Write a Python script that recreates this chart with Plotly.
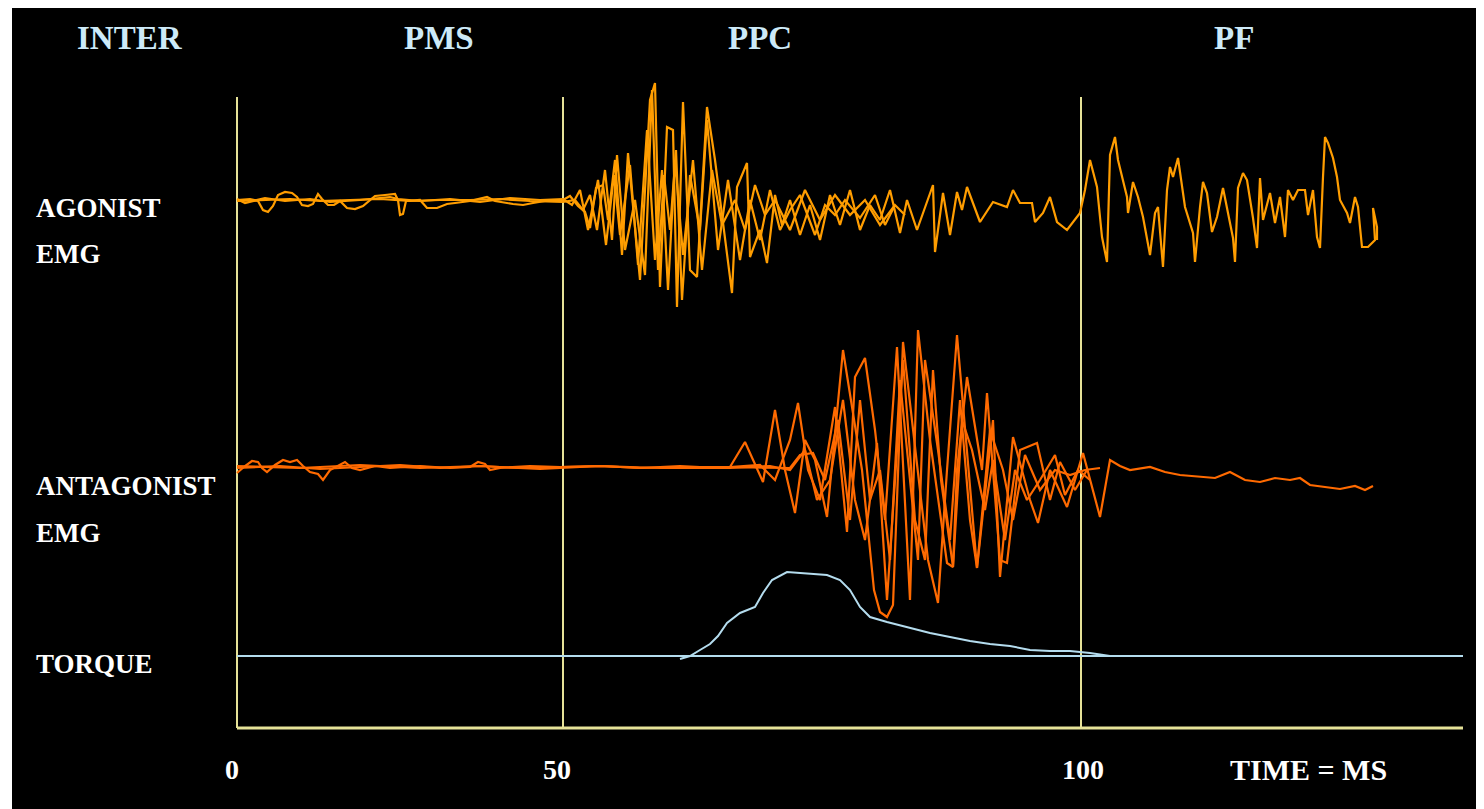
import plotly.graph_objects as go

# ---------------- axis / phase data (x in display units, y in display units, y grows downward) -------------
phase_names = ["INTER", "PMS", "PPC", "PF"]
phase_label_x = [130, 439, 760, 1234]
tick_positions = [237, 563, 1081]
tick_labels = ["0", "50", "100"]
axis_unit_label = "TIME = MS"

row_labels = [["AGONIST", "EMG"], ["ANTAGONIST", "EMG"], ["TORQUE"]]

ag_base_y = 200
ant_base_y = 467
torque_base_y = 656

# ---------------- agonist EMG (several superimposed trials) ----------------
ag1_x = [237, 250, 258, 263, 268, 273, 278, 285, 292, 297, 302, 308, 313, 318, 322, 328, 334, 340, 347, 355,
         363, 370, 375, 385, 395, 398, 400, 403, 406, 420, 427, 437, 447, 455, 470, 487, 495, 513, 523, 533,
         545, 563, 570, 578, 585, 590, 596, 603, 608, 615, 622, 628, 640, 650, 655, 660, 667, 673, 677, 683,
         690, 697, 707, 715, 725, 732, 737, 747, 750, 760, 767, 775, 782, 790, 800, 810, 820, 830, 840, 850,
         860, 870, 880, 890, 900, 907, 917, 933, 935, 943, 950, 957, 962, 967, 980, 993, 1007, 1013, 1020,
         1032, 1035, 1043, 1050, 1057, 1067, 1080, 1085, 1090, 1097, 1102, 1107, 1110, 1115, 1118, 1127, 1128,
         1133, 1138, 1143, 1150, 1155, 1158, 1163, 1167, 1170, 1173, 1178, 1182, 1185, 1193, 1195, 1200, 1203,
         1207, 1212, 1217, 1223, 1228, 1233, 1235, 1238, 1243, 1247, 1253, 1257, 1260, 1263, 1270, 1275, 1280,
         1285, 1288, 1293, 1298, 1305, 1308, 1313, 1317, 1320, 1323, 1325, 1328, 1333, 1337, 1340, 1347, 1350,
         1355, 1358, 1362, 1368, 1375, 1373, 1377, 1377]
ag1_y = [200, 199, 201, 210, 212, 206, 195, 192, 193, 197, 205, 206, 204, 194, 199, 205, 205, 201, 208, 209,
         206, 200, 196, 195, 194, 200, 215, 214, 201, 200, 208, 208, 204, 203, 201, 197, 201, 204, 205, 203,
         201, 200, 196, 206, 212, 228, 188, 185, 220, 160, 255, 153, 280, 100, 83, 287, 127, 130, 307, 102,
         270, 277, 107, 160, 240, 293, 187, 163, 257, 230, 263, 195, 225, 200, 235, 205, 240, 195, 225, 190,
         230, 205, 220, 190, 233, 200, 230, 185, 252, 193, 235, 192, 210, 187, 222, 202, 207, 190, 203,
         203, 222, 213, 197, 222, 230, 213, 190, 160, 187, 237, 262, 155, 137, 160, 197, 213,
         182, 197, 217, 255, 213, 207, 267, 190, 167, 177, 158, 187, 207, 233, 262, 207, 182,
         193, 232, 217, 188, 213, 238, 262, 188, 173, 180, 218, 248, 178, 220, 193, 223, 197,
         237, 190, 200, 190, 190, 215, 190, 237, 248, 177, 137, 143, 158, 177, 200, 213, 223,
         197, 207, 247, 247, 240, 208, 227, 240]

ag2_x = [237, 260, 290, 320, 350, 380, 410, 440, 470, 500, 530, 563, 575, 583, 590, 597, 605, 612, 617, 625,
         635, 645, 652, 658, 664, 670, 676, 682, 690, 700, 707, 718, 728, 740, 750, 760, 770, 780, 790, 800,
         815, 825, 835, 845, 860, 875, 885, 895, 905]
ag2_y = [201, 200, 199, 201, 200, 199, 201, 200, 200, 199, 201, 202, 200, 210, 195, 230, 170, 240, 155, 250,
         200, 275, 90, 270, 175, 230, 150, 300, 175, 230, 120, 250, 180, 260, 200, 240, 190, 230, 210, 195,
         235, 205, 215, 200, 218, 195, 225, 205, 215]

ag3_x = [237, 245, 265, 285, 310, 330, 360, 390, 398, 420, 450, 480, 510, 540, 563, 572, 580, 588, 598, 606,
         614, 620, 630, 638, 647, 655, 662, 668, 675, 683, 693, 702, 712, 722, 735, 745, 755, 765, 775, 790,
         805, 820, 835, 850, 865, 880, 895]
ag3_y = [199, 203, 198, 201, 199, 202, 200, 197, 199, 201, 199, 202, 198, 200, 199, 205, 190, 230, 180, 245,
         175, 235, 165, 265, 130, 260, 170, 290, 160, 255, 160, 270, 170, 225, 200, 230, 185, 215, 200, 230,
         190, 220, 195, 215, 200, 225, 205]

# ---------------- antagonist EMG (several superimposed trials) ----------------
ant1_x = [237, 245, 252, 258, 262, 267, 275, 283, 290, 297, 303, 310, 318, 323, 330, 338, 345, 352, 360, 375,
          390, 420, 450, 470, 478, 485, 490, 500, 530, 560, 600, 640, 680, 700, 715, 730, 745, 763, 775, 785,
          795, 805, 815, 827, 843, 862, 874, 880, 887, 893, 903, 918, 928, 938, 947, 957, 967, 977, 993, 1000,
          1013, 1030, 1038, 1050, 1067, 1083, 1100, 1110, 1120, 1130, 1150, 1165, 1180, 1200, 1215, 1230, 1245,
          1260, 1275, 1290, 1300, 1310, 1325, 1340, 1355, 1365, 1373]
ant1_y = [473, 466, 461, 462, 468, 472, 465, 460, 462, 460, 466, 472, 474, 480, 470, 466, 462, 468, 470, 466,
          468, 466, 468, 467, 462, 464, 470, 468, 466, 467, 466, 468, 466, 467, 467, 467, 442, 482, 410, 470,
          513, 440, 460, 517, 350, 470, 590, 612, 617, 605, 342, 470, 560, 603, 470, 335, 450, 568, 420, 577,
          437, 500, 523, 470, 507, 453, 517, 460, 466, 470, 467, 472, 475, 477, 478, 472, 480,
          482, 478, 480, 478, 485, 487, 489, 486, 490, 486]

ant2_x = [237, 280, 320, 360, 400, 440, 480, 520, 560, 600, 640, 680, 730, 760, 775, 790, 798, 808, 820, 835,
          847, 855, 865, 875, 885, 897, 910, 918, 930, 947, 953, 957, 967, 982, 987, 1000, 1007, 1020, 1037, 1050,
          1060, 1075, 1087]
ant2_y = [468, 466, 469, 467, 465, 468, 466, 468, 467, 466, 468, 467, 467, 465, 480, 440, 403, 470, 500, 407,
          532, 377, 358, 430, 520, 347, 600, 330, 440, 563, 567, 470, 377, 470, 393, 560, 563, 450, 443, 500,
          462, 490, 470]

ant3_x = [237, 300, 360, 420, 480, 540, 600, 660, 730, 770, 790, 805, 817, 830, 843, 855, 865, 877, 887, 903,
          915, 925, 933, 941, 953, 962, 972, 985, 993, 1005, 1015, 1027, 1040, 1055, 1065, 1078, 1090]
ant3_y = [466, 468, 465, 468, 466, 469, 466, 468, 468, 466, 470, 450, 500, 480, 400, 500, 540, 443, 600, 360,
          520, 560, 370, 480, 567, 420, 450, 510, 460, 540, 470, 500, 480, 455, 495, 470, 480]

ant4_x = [730, 790, 800, 813, 825, 838, 850, 860, 870, 880, 890, 900, 910, 918, 925, 938, 950, 960, 970, 977,
          990, 1003, 1013, 1025, 1040, 1055, 1070, 1085, 1100]
ant4_y = [467, 468, 455, 453, 480, 420, 520, 400, 500, 470, 560, 380, 480, 560, 360, 450, 540, 400, 520, 568,
          430, 470, 520, 455, 490, 470, 475, 470, 468]

# ---------------- torque ----------------
torque_base_x = [237, 1463]
torque_x = [680, 690, 700, 710, 718, 727, 740, 755, 763, 772, 787, 800, 815, 827, 840, 850, 860, 870, 887, 910,
            930, 950, 970, 990, 1010, 1030, 1050, 1070, 1090, 1110]
torque_y = [659, 656, 650, 644, 636, 623, 613, 607, 593, 580, 572, 573, 574, 575, 580, 590, 607, 617, 622, 628,
            633, 637, 641, 644, 646, 650, 651, 651, 653, 656]

# ---------------- styling ----------------
BG = "#000000"
AG_COLOR = "#FF9D00"
ANT_COLOR = "#FF6A00"
TORQUE_COLOR = "#B4DCEE"
GRID_COLOR = "#E6E298"
PHASE_COLOR = "#CDEAF8"
FONT = "Liberation Serif"

FIG_W = 1484
FIG_H = 809
PAGE_OFFSET = 8  # default body margin of the written page
X_RANGE = [230, 1470]
Y_RANGE = [740, 60]


def px_to_paper_x(v):
    return (v - X_RANGE[0]) / (X_RANGE[1] - X_RANGE[0])


def px_to_paper_y(v):
    return (Y_RANGE[0] - v) / (Y_RANGE[0] - Y_RANGE[1])


fig = go.Figure()

for xs, ys in [(ag2_x, ag2_y), (ag3_x, ag3_y), (ag1_x, ag1_y)]:
    fig.add_trace(go.Scatter(x=xs, y=ys, mode="lines", line=dict(color=AG_COLOR, width=2.2),
                             hoverinfo="skip", showlegend=False))
for xs, ys in [(ant2_x, ant2_y), (ant3_x, ant3_y), (ant4_x, ant4_y), (ant1_x, ant1_y)]:
    fig.add_trace(go.Scatter(x=xs, y=ys, mode="lines", line=dict(color=ANT_COLOR, width=2.2),
                             hoverinfo="skip", showlegend=False))

fig.add_trace(go.Scatter(x=torque_base_x, y=[torque_base_y] * len(torque_base_x), mode="lines",
                         line=dict(color=TORQUE_COLOR, width=2), hoverinfo="skip", showlegend=False))
fig.add_trace(go.Scatter(x=torque_x, y=torque_y, mode="lines",
                         line=dict(color=TORQUE_COLOR, width=2), hoverinfo="skip", showlegend=False))

# phase boundary lines and time axis
for tx in tick_positions:
    fig.add_shape(type="line", xref="x", yref="y", x0=tx, x1=tx, y0=97, y1=728,
                  line=dict(color=GRID_COLOR, width=2), layer="below")
fig.add_shape(type="line", xref="x", yref="y", x0=tick_positions[0], x1=1463, y0=728, y1=728,
              line=dict(color=GRID_COLOR, width=3), layer="below")

# thin white frame strip on the left of the original picture
fig.add_shape(type="rect", xref="paper", yref="paper", x0=px_to_paper_x(7), x1=px_to_paper_x(12),
              y0=px_to_paper_y(820), y1=px_to_paper_y(-10), fillcolor="white", line_width=0)

annotations = []
for name, px in zip(phase_names, phase_label_x):
    annotations.append(dict(x=px_to_paper_x(px), y=px_to_paper_y(38), xref="paper", yref="paper",
                            text=f"<b>{name}</b>", showarrow=False,
                            font=dict(family=FONT, size=33, color=PHASE_COLOR), xanchor="center",
                            yanchor="middle"))

label_rows = [(row_labels[0], [208, 254]), (row_labels[1], [486, 533]), (row_labels[2], [664])]
for texts, ys in label_rows:
    for t, yy in zip(texts, ys):
        annotations.append(dict(x=px_to_paper_x(34), y=px_to_paper_y(yy), xref="paper", yref="paper",
                                text=f"<b>{t}</b>", showarrow=False,
                                font=dict(family=FONT, size=27, color="white"), xanchor="left",
                                yanchor="middle"))

tick_label_x = [232, 557, 1083]
for t, px in zip(tick_labels, tick_label_x):
    annotations.append(dict(x=px_to_paper_x(px), y=px_to_paper_y(769), xref="paper", yref="paper",
                            text=f"<b>{t}</b>", showarrow=False,
                            font=dict(family=FONT, size=28, color="white"), xanchor="center",
                            yanchor="middle"))
annotations.append(dict(x=px_to_paper_x(1308), y=px_to_paper_y(769), xref="paper", yref="paper",
                        text=f"<b>{axis_unit_label}</b>", showarrow=False,
                        font=dict(family=FONT, size=30, color="white"), xanchor="center", yanchor="middle"))

fig_width = FIG_W + PAGE_OFFSET
plot_left = X_RANGE[0] - PAGE_OFFSET
plot_right = X_RANGE[1] - PAGE_OFFSET
plot_top = Y_RANGE[1] - PAGE_OFFSET
plot_bottom = Y_RANGE[0] - PAGE_OFFSET

fig.update_layout(
    width=fig_width, height=FIG_H,
    margin=dict(l=plot_left, r=fig_width - plot_right, t=plot_top, b=FIG_H - plot_bottom),
    paper_bgcolor=BG, plot_bgcolor=BG,
    xaxis=dict(range=X_RANGE, visible=False, fixedrange=True),
    yaxis=dict(range=Y_RANGE, visible=False, fixedrange=True),
    annotations=annotations,
    showlegend=False,
)

fig.write_html("out.html")
